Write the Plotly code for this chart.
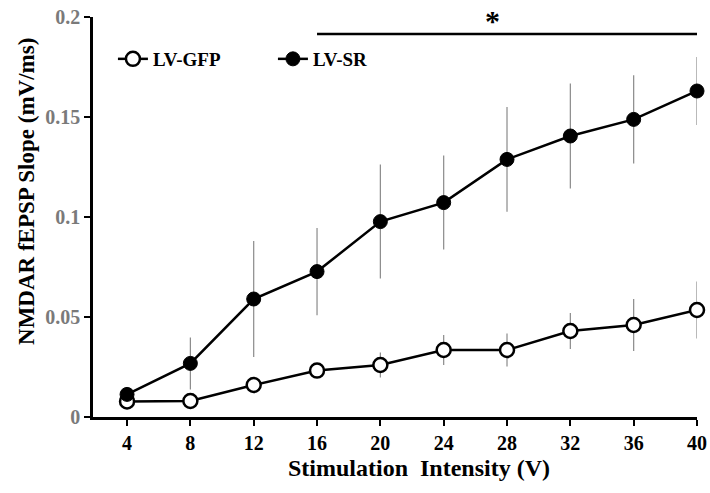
import plotly.graph_objects as go

intensity = [4, 8, 12, 16, 20, 24, 28, 32, 36, 40]
gfp_mean = [0.0078, 0.0080, 0.0160, 0.0232, 0.0260, 0.0335, 0.0335, 0.0430, 0.0460, 0.0535]
gfp_err = [0.0020, 0.0020, 0.0030, 0.0030, 0.0063, 0.0075, 0.0083, 0.0090, 0.0130, 0.0142]
sr_mean = [0.0113, 0.0268, 0.0590, 0.0727, 0.0977, 0.1072, 0.1288, 0.1405, 0.1488, 0.1630]
sr_err = [0.0020, 0.0130, 0.0290, 0.0218, 0.0285, 0.0235, 0.0262, 0.0263, 0.0221, 0.0170]
y_ticks = [0, 0.05, 0.1, 0.15, 0.2]
y_tick_text = ["0", "0.05", "0.1", "0.15", "0.2"]
sig_span = [16, 40]
sig_level = 0.1915
star_pos = [27.1, 0.1985]

FONT = "Liberation Serif"

fig = go.Figure()
fig.add_trace(go.Scatter(
    x=intensity, y=gfp_mean, name="<b>LV-GFP</b>", mode="lines+markers",
    line=dict(color="black", width=2.5),
    marker=dict(symbol="circle", size=14, color="white", line=dict(color="black", width=2.5)),
    error_y=dict(type="data", array=gfp_err, color="#8a8a8a", thickness=1.2, width=0),
    cliponaxis=False,
))
fig.add_trace(go.Scatter(
    x=intensity, y=sr_mean, name="<b>LV-SR</b>", mode="lines+markers",
    line=dict(color="black", width=2.5),
    marker=dict(symbol="circle", size=14, color="black", line=dict(color="black", width=1)),
    error_y=dict(type="data", array=sr_err, color="#8a8a8a", thickness=1.2, width=0),
    cliponaxis=False,
))

fig.add_shape(type="line", xref="x", yref="y", x0=sig_span[0], x1=sig_span[1],
              y0=sig_level, y1=sig_level, line=dict(color="black", width=2.5))
fig.add_annotation(x=star_pos[0], y=star_pos[1], xref="x", yref="y", text="<b>*</b>",
                   showarrow=False, font=dict(family=FONT, size=30, color="black"))

# axis titles as annotations (the reference has them off-centre)
fig.add_annotation(x=(419 - 93) / 604, y=-0.1275, xref="paper", yref="paper",
                   text="<b>Stimulation  Intensity (V)</b>", showarrow=False,
                   xanchor="center", yanchor="middle",
                   font=dict(family=FONT, size=24, color="black"))
fig.add_annotation(x=-0.111, y=0.565, xref="paper", yref="paper",
                   text="<b>NMDAR fEPSP Slope (mV/ms)</b>", showarrow=False, textangle=-90,
                   xanchor="center", yanchor="middle",
                   font=dict(family=FONT, size=23, color="black"))

fig.update_layout(
    width=710, height=493,
    margin=dict(l=93, r=13, t=17, b=76, autoexpand=False),
    paper_bgcolor="white", plot_bgcolor="white",
    font=dict(family=FONT, color="black"),
    showlegend=True,
    legend=dict(orientation="h", x=0.033, y=0.895, xanchor="left", yanchor="middle",
                font=dict(family=FONT, size=19, color="black"),
                entrywidth=115, itemwidth=30, bgcolor="rgba(0,0,0,0)"),
    xaxis=dict(
        range=[1.85, 40], tickvals=intensity, ticktext=[f"<b>{v}</b>" for v in intensity],
        showline=True, linecolor="black", linewidth=2.5, ticks="outside", ticklen=6,
        tickwidth=2, tickcolor="black", showgrid=False, zeroline=False, automargin=False,
        tickfont=dict(family=FONT, size=20, color="black"), ticklabeloverflow="allow",
    ),
    yaxis=dict(
        range=[0, 0.2], tickvals=y_ticks, ticktext=[f"<b>{t}</b>" for t in y_tick_text],
        showline=True, linecolor="black", linewidth=2.5, ticks="outside", ticklen=6,
        tickwidth=2, tickcolor="black", showgrid=False, zeroline=False, automargin=False,
        tickfont=dict(family=FONT, size=20, color="#7a7a7a"), ticklabeloverflow="allow",
    ),
)

fig.write_html("out.html", config={"displayModeBar": False},
               post_script="document.body.style.margin='0';")
